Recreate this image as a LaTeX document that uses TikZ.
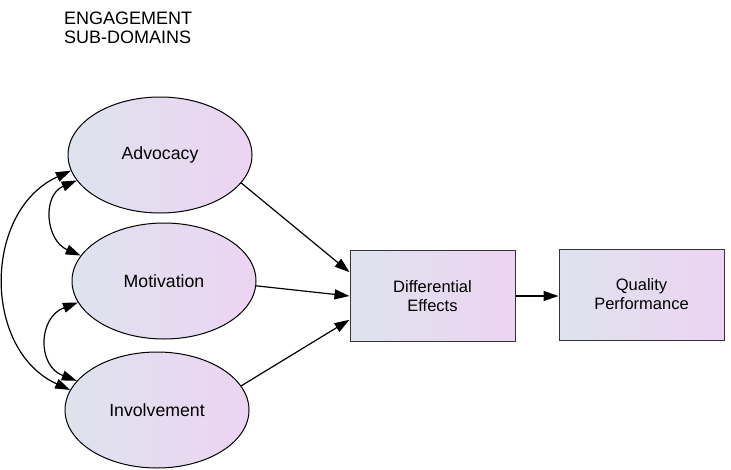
\documentclass[tikz,border=0pt]{standalone}
\usepackage{fontspec}
\setmainfont{Liberation Sans}
\usetikzlibrary{shapes.geometric,arrows.meta,calc}
\definecolor{shadeL}{HTML}{DEE3ED}
\definecolor{shadeR}{HTML}{ECD4F2}
\definecolor{boxline}{HTML}{333333}
\tikzset{
  ell/.style={ellipse, draw=black, line width=1pt, left color=shadeL, right color=shadeR,
    minimum width=184pt, minimum height=116pt, inner sep=0pt,
    font=\fontsize{17.7}{20}\selectfont},
  box/.style={rectangle, draw=boxline, line width=1pt, left color=shadeL, right color=shadeR,
    minimum width=165pt, minimum height=91pt, inner sep=0pt, align=center,
    font=\fontsize{16.5}{19}\selectfont},
  conn/.style={line width=1.2pt, -{Triangle[length=15pt,width=10pt]}},
  dconn/.style={line width=1.2pt, {Triangle[length=15pt,width=10pt]}-{Triangle[length=15pt,width=10pt]}},
}
\begin{document}
\begin{tikzpicture}[x=1pt,y=-1pt]
\useasboundingbox (0,0) rectangle (731,469);
\node[anchor=base west, align=left, inner sep=0pt, font=\fontsize{18}{19}\selectfont] (title) at (64,43) {ENGAGEMENT\\SUB-DOMAINS};
\node[ell] (adv) at (160,155) {Advocacy};
\node[ell] (mot) at (164,281) {Motivation};
\node[ell] (inv) at (157,410) {Involvement};
\node[box] (de) at (432.5,296) {Differential\\Effects};
\node[box] (qp) at (641.5,294.5) {Quality\\Performance};
\draw[conn] (adv.-19) -- (de.164);
\draw[conn] (mot.-3) -- (de.west);
\draw[conn] (inv.16) -- (de.196);
\draw[conn] (de.east) -- (de.east -| qp.west);
\draw[dconn] (adv.190) .. controls +(-88,40) and +(-88,-40) .. (inv.167);
\draw[dconn] (adv.197) .. controls +(-35,15) and +(-35,-15) .. (mot.163);
\draw[dconn] (mot.194) .. controls +(-40,15) and +(-40,-15) .. (inv.160);
\end{tikzpicture}
\end{document}
